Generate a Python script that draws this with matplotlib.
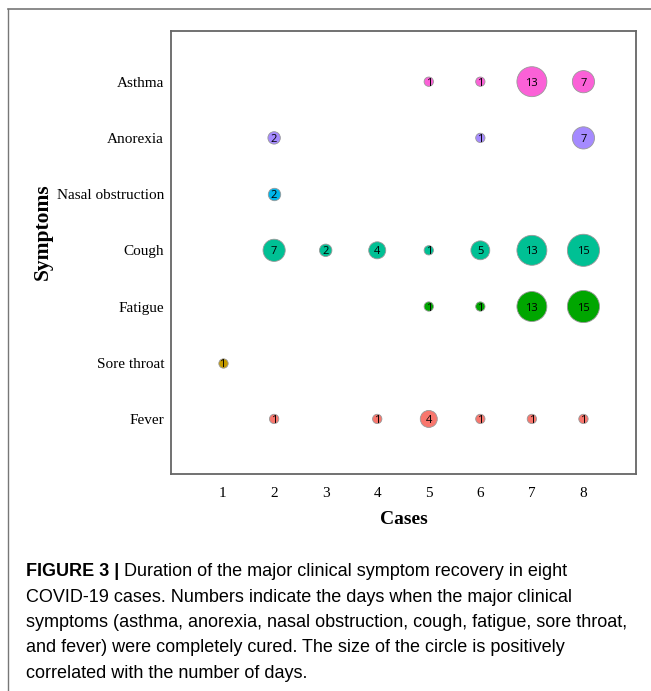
import matplotlib
matplotlib.use("Agg")
import matplotlib.pyplot as plt
from matplotlib.lines import Line2D

symptoms = ["Fever", "Sore throat", "Fatigue", "Cough", "Nasal obstruction", "Anorexia", "Asthma"]
cases = [1, 2, 3, 4, 5, 6, 7, 8]

# days to recovery per case (None = symptom absent)
fever = [None, 1, None, 1, 4, 1, 1, 1]
sore_throat = [1, None, None, None, None, None, None, None]
fatigue = [None, None, None, None, 1, 1, 13, 15]
cough = [None, 7, 2, 4, 1, 5, 13, 15]
nasal = [None, 2, None, None, None, None, None, None]
anorexia = [None, 2, None, None, None, 1, None, 7]
asthma = [None, None, None, None, 1, 1, 13, 7]

rows = [fever, sore_throat, fatigue, cough, nasal, anorexia, asthma]
colors = ["#F8766D", "#C49A00", "#00A600", "#00C094", "#00B6EB", "#A58AFF", "#FB61D7"]

serif = "Liberation Serif"
cap_font = "Liberation Sans"

fig = plt.figure(figsize=(6.51, 6.91), dpi=100)
ax = fig.add_axes([0.2627, 0.314, 0.7143, 0.641])

for i, (vals, col) in enumerate(zip(rows, colors)):
    xs = [c for c, v in zip(cases, vals) if v is not None]
    vs = [v for v in vals if v is not None]
    ys = [i + 1] * len(xs)
    ax.scatter(xs, ys, s=[35 * v + 10 for v in vs], c=col, edgecolors="#999999",
               linewidths=0.6, zorder=3)
    for x, y, v in zip(xs, ys, vs):
        ax.text(x, y, str(v), ha="center", va="center_baseline", fontsize=8,
                family="Open Sans", color="black", zorder=4)

ax.set_xlim(0, 9.02)
ax.set_ylim(0.02, 7.9)
ax.set_xticks(cases)
ax.set_yticks(range(1, len(symptoms) + 1))
ax.set_yticklabels(symptoms)
ax.tick_params(axis="y", length=0, pad=5, labelsize=11)
ax.tick_params(axis="x", length=0, pad=9, labelsize=11)
for lab in ax.get_xticklabels() + ax.get_yticklabels():
    lab.set_family(serif)
for sp in ax.spines.values():
    sp.set_color("#666666")
    sp.set_linewidth(1.3)

ax.set_xlabel("Cases", family=serif, fontweight="bold", fontsize=14, labelpad=8)
ax.set_ylabel("Symptoms", family=serif, fontweight="bold", fontsize=15.5, labelpad=0)
ax.yaxis.set_label_coords(-0.255, 0.548)

# outer frame
fig.add_artist(Line2D([0.0123, 1.0], [0.987, 0.987], color="#777777", lw=1.2))
fig.add_artist(Line2D([0.0123, 0.0123], [0.0, 0.987], color="#777777", lw=1.0))

caption = [
    "Duration of the major clinical symptom recovery in eight",
    "COVID-19 cases. Numbers indicate the days when the major clinical",
    "symptoms (asthma, anorexia, nasal obstruction, cough, fatigue, sore throat,",
    "and fever) were completely cured. The size of the circle is positively",
    "correlated with the number of days.",
]
x0 = 26 / 651
y0 = 1 - 572 / 691
dy = 25.3 / 691
head = fig.text(x0, y0, "FIGURE 3 | ", family=cap_font, fontweight="bold",
                fontsize=13, va="center")
fig.canvas.draw()
bb = head.get_window_extent().transformed(fig.transFigure.inverted())
fig.text(bb.x1, y0, caption[0], family=cap_font, fontsize=13, va="center")
for k, line in enumerate(caption[1:], start=1):
    fig.text(x0, y0 - k * dy, line, family=cap_font, fontsize=13, va="center")

fig.savefig("out.png", dpi=100)
